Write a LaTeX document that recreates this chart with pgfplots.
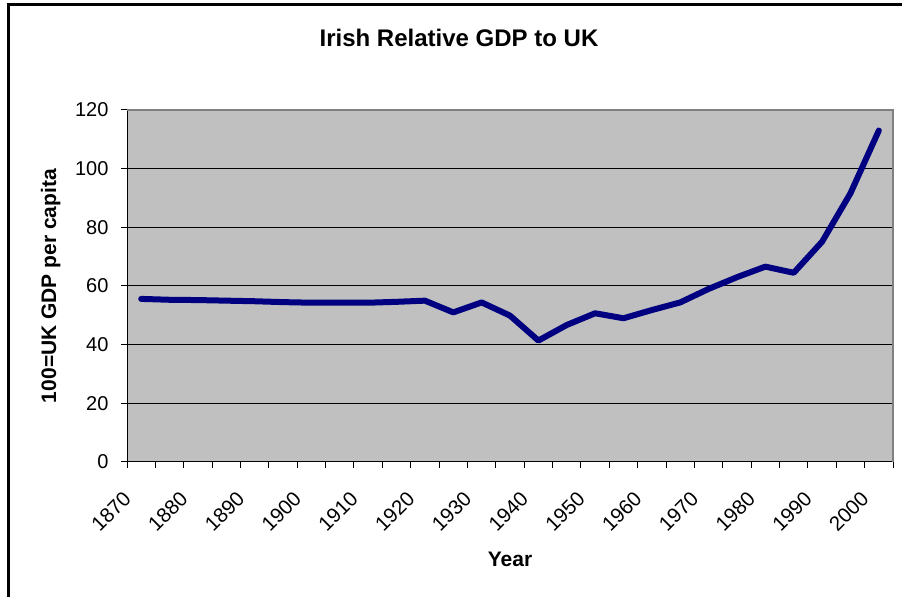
\documentclass[border=0pt]{standalone}
\usepackage{fontspec}
\setmainfont{Liberation Sans}
\usepackage{pgfplots}
\pgfplotsset{compat=1.18}
\definecolor{plotgray}{HTML}{C0C0C0}
\definecolor{bordergray}{HTML}{808080}
\definecolor{navyline}{HTML}{000080}
\begin{document}
\begin{tikzpicture}[x=1bp,y=1bp]
\useasboundingbox (0,0) rectangle (902,597);
\begin{axis}[
  at={(127bp,135bp)}, anchor=south west,
  width=766bp, height=352bp, scale only axis,
  xmin=1867.5, xmax=2002.5, ymin=0, ymax=120,
  axis background/.style={fill=plotgray},
  axis lines=left, axis line style={-, black, line width=1bp},
  xtick={1870,1880,...,2000},
  minor xtick={1867.5,1872.5,...,2002.5},
  ytick={0,20,...,120},
  major x tick style={draw=none},
  minor x tick style={black, line width=1bp},
  y tick style={black, line width=1bp},
  tick align=outside,
  major tick length=6bp, minor tick length=6bp,
  ymajorgrids, grid style={black, line width=1bp},
  /pgf/number format/1000 sep={},
  /pgf/number format/assume math mode=true,
  y tick label style={font=\fontsize{20bp}{24bp}\selectfont, xshift=-9bp},
  x tick label style={font=\fontsize{20.5bp}{24bp}\selectfont, rotate=45, anchor=north east, xshift=-25.5bp, yshift=1.5bp},
  clip=false,
]
\addplot[navyline, line width=6bp, line join=round, line cap=round] coordinates {
(1870,55.6) (1875,55.3) (1880,55.2) (1885,55.0) (1890,54.8) (1895,54.5)
(1900,54.3) (1905,54.3) (1910,54.3) (1915,54.6) (1920,55.0) (1925,51.0)
(1930,54.4) (1935,49.9) (1940,41.4) (1945,46.7) (1950,50.7) (1955,49.0)
(1960,51.8) (1965,54.4) (1970,59.0) (1975,63.0) (1980,66.6) (1985,64.5)
(1990,75.1) (1995,91.6) (2000,113.0)};
\draw[bordergray, line width=1.5bp] (rel axis cs:0,1) -- (rel axis cs:1,1) -- (rel axis cs:1,0);
\end{axis}
\node[anchor=base, font=\fontsize{24bp}{28bp}\selectfont\bfseries] at (459,550.3) {Irish Relative GDP to UK};
\node[anchor=base, rotate=90, font=\fontsize{21bp}{25bp}\selectfont\bfseries] at (56,311) {100=UK GDP per capita};
\node[anchor=base, font=\fontsize{21bp}{25bp}\selectfont\bfseries] at (510,30) {Year};
\draw[black, line width=2.5bp] (8.5,-10) -- (8.5,592.5) -- (910,592.5);
\end{tikzpicture}
\end{document}
